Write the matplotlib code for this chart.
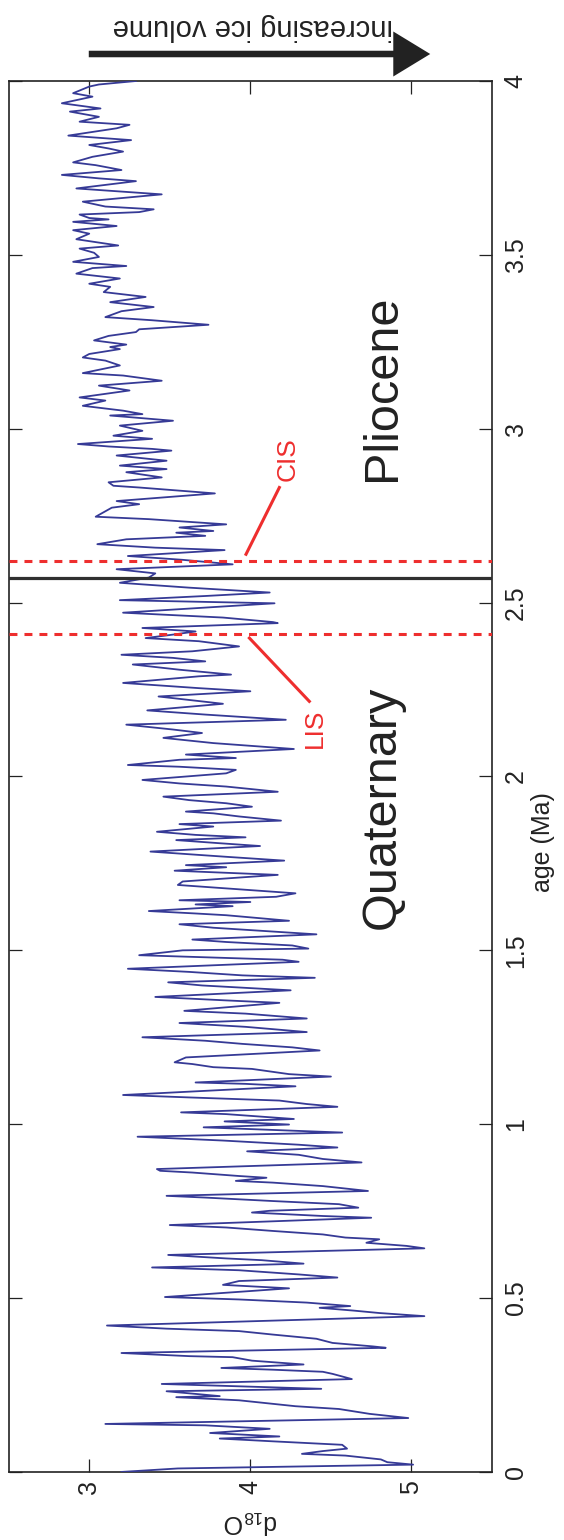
import matplotlib
matplotlib.use('Agg')
import matplotlib.pyplot as plt
from matplotlib.patches import FancyArrowPatch

plt.rcParams['font.family'] = ['Liberation Sans', 'DejaVu Sans']
plt.rcParams['mathtext.default'] = 'regular'

# benthic d18O stack, age in Ma (youngest first)
age_ma = [
    0.000, 0.010, 0.021, 0.028, 0.036, 0.047, 0.052, 0.060, 0.067, 0.078,
    0.088, 0.096, 0.102, 0.112, 0.124, 0.134, 0.138, 0.155, 0.167, 0.181,
    0.189, 0.206, 0.215, 0.218, 0.232, 0.239, 0.245, 0.253, 0.267, 0.282,
    0.288, 0.294, 0.299, 0.309, 0.320, 0.330, 0.333, 0.342, 0.357, 0.361,
    0.371, 0.383, 0.395, 0.405, 0.412, 0.421, 0.448, 0.457, 0.464, 0.472,
    0.477, 0.487, 0.496, 0.503, 0.528, 0.538, 0.549, 0.559, 0.568, 0.580,
    0.588, 0.599, 0.609, 0.614, 0.624, 0.643, 0.650, 0.659, 0.669, 0.674,
    0.683, 0.693, 0.703, 0.710, 0.731, 0.736, 0.746, 0.751, 0.760, 0.770,
    0.779, 0.789, 0.794, 0.808, 0.822, 0.832, 0.837, 0.846, 0.851, 0.861,
    0.866, 0.871, 0.890, 0.900, 0.912, 0.922, 0.933, 0.941, 0.953, 0.964,
    0.976, 0.991, 0.999, 1.008, 1.015, 1.029, 1.034, 1.050, 1.058, 1.068,
    1.077, 1.084, 1.109, 1.116, 1.120, 1.137, 1.144, 1.159, 1.164, 1.173,
    1.178, 1.192, 1.212, 1.221, 1.231, 1.240, 1.250, 1.265, 1.280, 1.291,
    1.304, 1.318, 1.326, 1.349, 1.356, 1.366, 1.385, 1.399, 1.408, 1.421,
    1.428, 1.438, 1.447, 1.467, 1.473, 1.486, 1.500, 1.505, 1.514, 1.524,
    1.531, 1.546, 1.565, 1.575, 1.585, 1.601, 1.606, 1.613, 1.627, 1.632,
    1.639, 1.644, 1.654, 1.664, 1.678, 1.688, 1.698, 1.717, 1.729, 1.739,
    1.745, 1.758, 1.769, 1.784, 1.800, 1.808, 1.817, 1.825, 1.832, 1.841,
    1.856, 1.863, 1.873, 1.885, 1.894, 1.899, 1.913, 1.923, 1.932, 1.942,
    1.956, 1.971, 1.980, 1.990, 2.009, 2.019, 2.028, 2.033, 2.048, 2.053,
    2.063, 2.079, 2.096, 2.111, 2.125, 2.135, 2.149, 2.163, 2.178, 2.190,
    2.209, 2.221, 2.230, 2.245, 2.254, 2.269, 2.288, 2.293, 2.307, 2.322,
    2.331, 2.341, 2.350, 2.360, 2.374, 2.389, 2.398, 2.408, 2.417, 2.427,
    2.441, 2.444, 2.457, 2.471, 2.498, 2.507, 2.519, 2.529, 2.543, 2.557,
    2.572, 2.584, 2.596, 2.610, 2.623, 2.634, 2.651, 2.658, 2.668, 2.682,
    2.692, 2.701, 2.706, 2.716, 2.725, 2.740, 2.747, 2.773, 2.783, 2.792,
    2.814, 2.831, 2.836, 2.846, 2.860, 2.875, 2.884, 2.894, 2.908, 2.923,
    2.937, 2.942, 2.949, 2.956, 2.971, 2.980, 2.994, 3.009, 3.023, 3.038,
    3.042, 3.052, 3.066, 3.081, 3.090, 3.110, 3.124, 3.138, 3.153, 3.160,
    3.182, 3.196, 3.205, 3.215, 3.229, 3.235, 3.242, 3.254, 3.267, 3.278,
    3.286, 3.299, 3.312, 3.321, 3.338, 3.350, 3.364, 3.379, 3.393, 3.408,
    3.417, 3.432, 3.446, 3.462, 3.468, 3.480, 3.494, 3.506, 3.518, 3.527,
    3.545, 3.561, 3.571, 3.583, 3.595, 3.602, 3.606, 3.616, 3.623, 3.631,
    3.639, 3.653, 3.674, 3.691, 3.712, 3.720, 3.730, 3.744, 3.758, 3.766,
    3.782, 3.797, 3.806, 3.816, 3.830, 3.843, 3.864, 3.874, 3.883, 3.897,
    3.912, 3.921, 3.936, 3.955, 3.965, 3.984, 3.990, 4.000,
]

d18o = [
    3.20, 3.55, 5.01, 4.85, 4.81, 4.59, 4.32, 4.45, 4.60, 4.57,
    4.14, 3.81, 4.18, 3.75, 4.12, 3.72, 3.10, 4.98, 4.74, 4.55,
    4.28, 3.93, 3.54, 3.81, 3.48, 4.44, 4.01, 3.45, 4.63, 4.51,
    4.45, 4.14, 3.82, 4.33, 4.01, 3.89, 3.62, 3.20, 4.84, 4.76,
    4.51, 4.41, 4.14, 3.93, 3.48, 3.11, 5.08, 4.80, 4.64, 4.43,
    4.62, 4.35, 3.93, 3.47, 4.24, 3.83, 3.93, 4.54, 4.30, 3.93,
    3.39, 4.33, 4.07, 3.85, 3.49, 5.08, 4.97, 4.72, 4.80, 4.59,
    4.45, 4.14, 3.85, 3.50, 4.75, 4.45, 4.01, 4.12, 4.67, 4.55,
    4.14, 3.72, 3.48, 4.73, 4.45, 4.14, 3.91, 4.10, 3.93, 3.64,
    3.44, 3.42, 4.69, 4.45, 4.30, 3.98, 4.54, 4.30, 3.83, 3.30,
    4.57, 3.71, 4.24, 3.84, 4.27, 3.85, 3.57, 4.54, 4.35, 4.18,
    3.62, 3.21, 4.28, 3.97, 3.66, 4.50, 4.24, 4.01, 3.77, 3.64,
    3.53, 3.60, 4.43, 4.26, 3.95, 3.72, 3.33, 4.35, 3.97, 3.56,
    4.35, 3.97, 3.59, 4.18, 3.85, 3.41, 4.25, 3.70, 3.49, 4.40,
    3.95, 3.62, 3.24, 4.30, 4.20, 3.31, 3.58, 4.36, 4.26, 3.85,
    3.64, 4.41, 3.77, 3.56, 4.24, 3.85, 3.66, 3.37, 3.89, 3.66,
    4.00, 3.56, 4.16, 4.28, 3.85, 3.55, 3.58, 4.17, 3.53, 3.85,
    3.60, 4.21, 3.85, 3.38, 4.06, 3.81, 3.54, 3.97, 3.66, 3.42,
    3.77, 3.56, 4.19, 3.93, 3.77, 3.60, 4.01, 3.85, 3.62, 3.46,
    4.17, 3.85, 3.56, 3.33, 3.85, 3.91, 3.56, 3.24, 3.56, 3.91,
    3.60, 4.27, 3.77, 3.46, 3.70, 3.52, 3.23, 4.22, 3.72, 3.36,
    3.83, 3.60, 3.43, 4.00, 3.68, 3.21, 3.68, 3.88, 3.56, 3.27,
    3.72, 3.52, 3.20, 3.64, 3.93, 3.68, 3.35, 3.52, 3.66, 3.33,
    4.17, 4.14, 3.83, 3.21, 4.15, 3.19, 3.72, 4.12, 3.62, 3.19,
    3.37, 3.41, 3.17, 3.89, 3.58, 3.24, 3.84, 3.41, 3.05, 3.23,
    3.72, 3.54, 3.77, 3.56, 3.85, 3.37, 3.04, 3.14, 3.31, 3.17,
    3.78, 3.31, 3.15, 3.12, 3.45, 3.23, 3.48, 3.19, 3.48, 3.17,
    3.51, 3.39, 3.12, 2.93, 3.39, 3.15, 3.33, 3.19, 3.52, 3.13,
    3.33, 3.21, 2.96, 3.10, 2.94, 3.25, 3.06, 3.45, 3.21, 2.96,
    3.19, 3.10, 2.96, 3.00, 3.19, 3.13, 3.23, 3.03, 3.12, 3.29,
    3.31, 3.74, 3.39, 3.10, 3.20, 3.40, 3.13, 3.35, 3.09, 3.13,
    3.00, 3.19, 2.92, 3.02, 3.23, 2.90, 3.06, 3.03, 2.94, 3.18,
    2.92, 3.00, 2.90, 3.17, 2.90, 3.12, 3.00, 2.94, 3.31, 3.40,
    3.10, 2.96, 3.45, 2.92, 3.29, 3.06, 2.83, 3.20, 3.04, 2.90,
    3.02, 3.21, 3.12, 3.00, 3.26, 2.87, 3.17, 3.25, 2.94, 3.06,
    2.88, 3.07, 2.83, 3.02, 2.90, 3.00, 3.06, 3.29,
]

# boundaries (Ma)
quaternary_base = 2.57
cis_onset = 2.62
lis_onset = 2.41

age_ticks = [0, 0.5, 1, 1.5, 2, 2.5, 3, 3.5, 4]
age_ticklabels = ['0', '0.5', '1', '1.5', '2', '2.5', '3', '3.5', '4']
d18o_ticks = [3, 4, 5]

line_blue = '#363a96'
red = '#ee2e2e'
dark = '#222222'

fig = plt.figure(figsize=(5.64, 15.40), dpi=100)
ax = fig.add_axes([0.0154, 0.0442, 0.857, 0.9032])

ax.plot(d18o, age_ma, color=line_blue, lw=1.3, zorder=3)
ax.axhline(quaternary_base, color='#303030', lw=2.3, zorder=4)
for a in (cis_onset, lis_onset):
    ax.axhline(a, color=red, lw=2.2, dashes=(2.6, 2.3), zorder=5)

ax.set_xlim(2.5, 5.5)
ax.set_ylim(0, 4)

ax.set_xticks(d18o_ticks)
ax.set_xticklabels([str(t) for t in d18o_ticks])
ax.set_yticks(age_ticks)
ax.set_yticklabels(age_ticklabels)
ax.tick_params(direction='in', length=9.5, width=0.9, color=dark,
               top=True, bottom=True, left=True, right=True,
               labelsize=18, labelcolor=dark)
ax.tick_params(axis='x', labelrotation=90, pad=6)
ax.tick_params(axis='y', labelleft=False, labelright=True,
               labelrotation=90, pad=8.5)
for lbl in ax.get_yticklabels():
    lbl.set_va('center')
for s in ax.spines.values():
    s.set_linewidth(1.2)
    s.set_color(dark)

ax.text(1.106, 0.4525, 'age (Ma)', transform=ax.transAxes, rotation=90,
        ha='center', va='center', fontsize=18, color=dark)
ax.text(0.5, -0.036, 'd$_{18}$O', transform=ax.transAxes, rotation=180,
        ha='center', va='center', fontsize=18, color=dark)

# epoch names
ax.text(4.82, 1.91, 'Quaternary', rotation=90, ha='center', va='center',
        fontsize=35, color=dark)
ax.text(4.82, 3.117, 'Pliocene', rotation=90, ha='center', va='center',
        fontsize=35, color=dark)

# ice sheet onset labels with leader lines
ax.plot([3.973, 4.18], [2.639, 2.831], color=red, lw=2.2, zorder=5)
ax.text(4.23, 2.912, 'CIS', rotation=90, ha='center', va='center',
        fontsize=19, color=red)
ax.plot([3.994, 4.366], [2.398, 2.216], color=red, lw=2.2, zorder=5)
ax.text(4.40, 2.139, 'LIS', rotation=90, ha='center', va='center',
        fontsize=19, color=red)

# ice volume arrow above the axes
arrow = FancyArrowPatch((86, 1486), (433, 1486), transform=None,
                        arrowstyle='simple,head_length=2.66,head_width=3.24,tail_width=0.47',
                        mutation_scale=10, color='#222222', lw=0)
fig.patches.append(arrow)
fig.text(253 / 564, 1 - 27 / 1540, 'increasing ice volume', rotation=180,
         ha='center', va='center', fontsize=21, color=dark)

fig.savefig('out.png', dpi=100)
